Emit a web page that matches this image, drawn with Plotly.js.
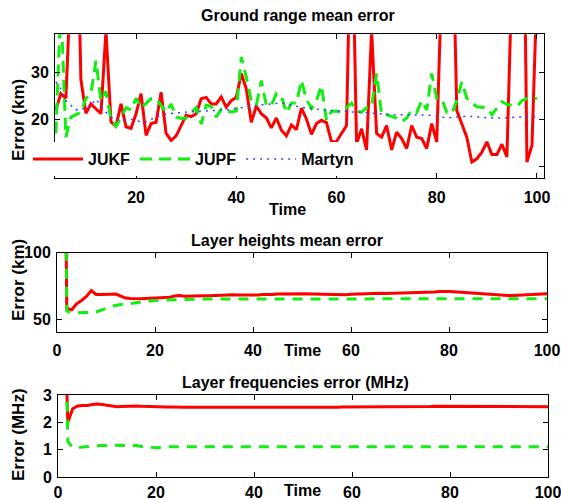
<!DOCTYPE html>
<html>
<head>
<meta charset="utf-8">
<script src="https://cdn.plot.ly/plotly-3.0.1.min.js"></script>
<style>html,body{margin:0;padding:0;background:#fff;}#chart{width:561px;height:500px;}</style>
</head>
<body>
<div id="chart"></div>
<script>
// ---------- Ground range mean error ----------
var timeGround = [4,5,6,7,8,9,10,11,12,13,14,15,16,17,18,19,20,21,22,23,24,25,26,27,28,29,30,31,32,33,34,35,36,37,38,39,40,41,42,43,44,45,46,47,48,49,50,51,52,53,54,55,56,57,58,59,60,61,62,63,64,65,66,67,68,69,70,71,72,73,74,75,76,77,78,79,80,81,82,83,84,85,86,87,88,89,90,91,92,93,94,95,96,97,98,99,100];
var groundJUKF = [22,25.5,24.5,52,76,28.5,21.3,23.3,22.3,21.2,39,19.5,18.5,23.3,18.4,18.1,21.2,25.5,16.6,19.1,19.4,25.8,17,15.5,16.5,18.7,20.9,20.6,21.2,24.4,24.7,23.3,23.3,24.8,22.6,24,24.7,29.8,26.5,19.4,22.8,21.2,20.3,18.2,20.3,17.7,16.5,18.8,17.8,22.4,20.1,16.8,19.1,19.8,19.3,15.2,15.3,17,18.7,70,14.8,18,13.5,39,17,16.2,18.7,13.5,17.3,15.9,13.8,18.7,16.2,15.9,13.8,19.1,15.2,50,60,70,21.9,19.1,16.2,10.9,11.6,13,15.2,12.5,12.5,14.7,12,50,70,100,10.9,14.5,48];
var groundJUPF = [17,45,16.2,20.5,21,21.5,24.5,25.5,32.5,24,26,20,18.5,20.5,22.5,22,24.5,22.5,23.5,24.4,24.5,23,21.5,23.3,20.5,20.2,20.3,21.5,22.5,19,23,22.8,20.5,22.2,21.8,21.6,21.8,33.3,29,24,23,28.3,23,23,25.5,25,21.4,23.5,23.5,28.3,24.3,22.3,24,27.2,19.8,21.7,21.8,21.5,22.5,23.5,21.8,21.5,22.5,22.7,29.8,21,21,20.7,20.3,19.5,20.3,22,21.5,24,22,29.8,24.5,24.4,21.5,21.2,24,28,24.5,23.5,22.7,22.6,22.5,21,22.5,23.8,23.2,23,22.8,24,24.5,24.3,24.5];
var groundMartyn = [28,26.5,24,23,22,22.5,22,23,24.3,23,21.5,20.5,20,19.8,19.8,20,19.7,19.5,19.5,20,20.5,21,21.2,21.3,21.4,21.4,21.5,21.6,21.7,21.8,21.8,21.9,21.9,22,22,22.2,22.3,22.5,22.6,22.8,23,23.1,23.2,23.3,23.4,23.5,23.3,23,22.8,22.6,22.5,22.4,22.2,22,22,21.9,21.8,21.8,21.7,21.6,21.6,21.5,21.4,21.3,21.2,21.1,21,21,21,21,21,21,21,21,21,20.9,20.7,20.5,20.3,20.4,20.5,20.6,20.7,20.6,20.5,20.5,20.4,20.3,20.3,20.3,20.4,20.4,20.5,20.5,20.5,20.6,20.6];

// ---------- Layer heights / frequencies ----------
var timeLayer = [1,2,3,4,5,6,7,8,9,10,11,12,13,14,15,16,17,18,19,20,21,22,23,24,25,26,27,28,29,30,31,32,33,34,35,36,37,38,39,40,41,42,43,44,45,46,47,48,49,50,51,52,53,54,55,56,57,58,59,60,61,62,63,64,65,66,67,68,69,70,71,72,73,74,75,76,77,78,79,80,81,82,83,84,85,86,87,88,89,90,91,92,93,94,95,96,97,98,99,100];
var heightJUKF = [400,58,57,61.5,64,67,71.5,68.5,68.5,68.8,68.7,68.8,67,65.8,65.5,65.3,65.3,65.5,65.6,65.8,65.8,66,66.5,67.3,67.8,67.2,67.4,67.6,67.3,67.5,67.6,67.8,67.6,67.9,68.1,68.3,68.2,68.1,68.3,68.2,68.2,68.4,68.3,68.5,68.9,69,68.9,68.9,69.1,69.2,69,68.9,68.8,68.9,68.9,69,68.9,68.6,68.3,68.7,68.9,69,68.9,69.1,69.4,69.4,69.3,69.4,69.3,69.4,69.5,69.6,69.6,69.7,69.9,70.1,70.4,70.7,70.9,70.8,70.5,70.2,69.9,69.7,69.6,69.4,69.2,69,68.7,68.2,67.9,67.8,67.8,68,68.3,68.6,68.8,68.9,69,69];
var heightJUPF = [400,56,54.5,54.5,54.8,55,55,55.3,56.5,58,59.5,60.3,61,61.3,61.8,62.3,62.8,63.2,63.6,63.9,64.1,64.3,64.5,64.6,64.8,64.9,65,65,65.1,65.1,65.1,65.2,65.2,65.2,65.2,65.2,65.3,65.3,65.3,65.3,65.3,65.3,65.3,65.3,65.3,65.3,65.3,65.3,65.3,65.3,65.3,65.3,65.3,65.3,65.3,65.3,65.3,65.3,65.3,65.3,65.3,65.3,65.3,65.3,65.3,65.3,65.3,65.3,65.3,65.3,65.3,65.3,65.3,65.3,65.3,65.3,65.3,65.3,65.3,65.3,65.3,65.3,65.3,65.3,65.3,65.3,65.3,65.3,65.3,65.3,65.3,65.3,65.3,65.3,65.3,65.3,65.3,65.3,65.3,65.3];
var freqJUKF = [8,2.0,2.5,2.6,2.62,2.62,2.65,2.67,2.65,2.62,2.6,2.57,2.58,2.59,2.6,2.6,2.59,2.58,2.58,2.57,2.57,2.56,2.56,2.55,2.55,2.55,2.55,2.55,2.55,2.54,2.54,2.54,2.53,2.53,2.53,2.53,2.53,2.53,2.53,2.53,2.54,2.54,2.54,2.54,2.54,2.54,2.54,2.54,2.55,2.55,2.55,2.55,2.55,2.55,2.55,2.55,2.55,2.56,2.56,2.56,2.56,2.56,2.56,2.56,2.57,2.57,2.57,2.57,2.57,2.57,2.58,2.58,2.58,2.58,2.58,2.58,2.59,2.59,2.59,2.59,2.59,2.59,2.59,2.59,2.59,2.58,2.58,2.58,2.58,2.58,2.58,2.57,2.57,2.57,2.57,2.57,2.57,2.57,2.57,2.57];
var freqJUPF = [10,1.3,1.08,1.07,1.1,1.12,1.13,1.14,1.15,1.16,1.17,1.16,1.15,1.15,1.16,1.15,1.12,1.1,1.08,1.07,1.08,1.1,1.11,1.11,1.11,1.11,1.11,1.11,1.11,1.11,1.11,1.11,1.11,1.11,1.11,1.11,1.11,1.11,1.11,1.11,1.11,1.11,1.11,1.11,1.11,1.11,1.11,1.11,1.11,1.11,1.11,1.11,1.11,1.11,1.11,1.11,1.11,1.11,1.11,1.11,1.11,1.11,1.11,1.11,1.11,1.11,1.11,1.11,1.11,1.11,1.11,1.11,1.11,1.11,1.11,1.11,1.11,1.11,1.11,1.11,1.11,1.11,1.11,1.11,1.11,1.11,1.11,1.11,1.11,1.11,1.11,1.11,1.11,1.11,1.11,1.11,1.11,1.11,1.11,1.11];

var xTicks1 = [20,40,60,80,100];
var xTicks23 = [0,20,40,60,80,100];
var yTicks1 = [10,20,30];
var yTicks2 = [50,100];
var yTicks3 = [0,1,2,3];

var RED = '#ff0000', GREEN = '#11ee11', BLUE = '#3344ff';
var FONT = 'Liberation Sans, Arial, Helvetica, sans-serif';

var traces = [
  {x: timeGround, y: groundJUKF, name: 'JUKF', mode: 'lines', line: {color: RED, width: 3}, xaxis: 'x', yaxis: 'y'},
  {x: timeGround, y: groundJUPF, name: 'JUPF', mode: 'lines', line: {color: GREEN, width: 3, dash: '12px,7px'}, xaxis: 'x', yaxis: 'y'},
  {x: timeGround, y: groundMartyn, name: 'Martyn', mode: 'lines', line: {color: BLUE, width: 1.5, dash: '2px,5px'}, xaxis: 'x', yaxis: 'y'},
  {x: timeLayer, y: heightJUKF, name: 'JUKF', mode: 'lines', line: {color: RED, width: 3}, xaxis: 'x2', yaxis: 'y2', showlegend: false},
  {x: timeLayer, y: heightJUPF, name: 'JUPF', mode: 'lines', line: {color: GREEN, width: 3, dash: '10px,8px'}, xaxis: 'x2', yaxis: 'y2', showlegend: false},
  {x: timeLayer, y: freqJUKF, name: 'JUKF', mode: 'lines', line: {color: RED, width: 3}, xaxis: 'x3', yaxis: 'y3', showlegend: false},
  {x: timeLayer, y: freqJUPF, name: 'JUPF', mode: 'lines', line: {color: GREEN, width: 3, dash: '10px,8px'}, xaxis: 'x3', yaxis: 'y3', showlegend: false}
];

var W = 561, H = 500;
function px(v){return v / W;}
function py(v){return 1 - v / H;}

function axisBase(extra){
  var a = {
    showline: true, linecolor: '#000', linewidth: 1, mirror: 'ticks',
    ticks: 'inside', ticklen: 5, tickwidth: 1, tickcolor: '#000',
    showgrid: false, zeroline: false, fixedrange: true,
    tickfont: {family: FONT, size: 16, color: '#000', weight: 'bold'}
  };
  for (var k in extra) a[k] = extra[k];
  return a;
}

var titleFont = {family: FONT, size: 16, color: '#000', weight: 'bold'};
var yTitleFont = {family: FONT, size: 17, color: '#000', weight: 'bold'};

var layout = {
  width: W, height: H,
  margin: {l: 0, r: 0, t: 0, b: 0},
  paper_bgcolor: '#fff', plot_bgcolor: '#fff',
  showlegend: true,
  legend: {
    orientation: 'h', x: px(28), y: py(142), xanchor: 'left', yanchor: 'top',
    bgcolor: '#fff', borderwidth: 0, itemwidth: 50,
    font: {family: FONT, size: 16, color: '#000', weight: 'bold'},
    traceorder: 'normal'
  },
  xaxis: axisBase({domain: [px(55), px(544)], range: [3.83, 101.4], tickvals: xTicks1, ticktext: xTicks1.map(String), anchor: 'y', ticklabelstandoff: 5}),
  yaxis: axisBase({domain: [py(178), py(34.3)], range: [7.5, 38.15], tickvals: yTicks1, ticktext: yTicks1.map(String), anchor: 'x', ticklabelstandoff: 2}),
  xaxis2: axisBase({domain: [px(57), px(547)], range: [0, 100], tickvals: xTicks23, ticktext: xTicks23.map(String), anchor: 'y2', ticklabelstandoff: 3}),
  yaxis2: axisBase({domain: [py(332.3), py(252.7)], range: [40, 100], tickvals: yTicks2, ticktext: yTicks2.map(String), anchor: 'x2', ticklabelstandoff: 2}),
  xaxis3: axisBase({domain: [px(58), px(548)], range: [0, 100], tickvals: xTicks23, ticktext: xTicks23.map(String), anchor: 'y3', ticklabelstandoff: 1, ticklabeloverflow: 'allow'}),
  yaxis3: axisBase({domain: [py(477), py(395)], range: [0, 3], tickvals: yTicks3, ticktext: yTicks3.map(String), anchor: 'x3', ticklabelstandoff: 2}),
  annotations: [
    {text: 'Ground range mean error', x: px(298), y: py(15), xref: 'paper', yref: 'paper', xanchor: 'center', yanchor: 'middle', showarrow: false, font: titleFont},
    {text: 'Time', x: px(287), y: py(210), xref: 'paper', yref: 'paper', xanchor: 'center', yanchor: 'middle', showarrow: false, font: titleFont},
    {text: 'Error (km)', x: px(18), y: py(120), xref: 'paper', yref: 'paper', xanchor: 'center', yanchor: 'middle', textangle: -90, showarrow: false, font: yTitleFont},
    {text: 'Layer heights mean error', x: px(287), y: py(240), xref: 'paper', yref: 'paper', xanchor: 'center', yanchor: 'middle', showarrow: false, font: titleFont},
    {text: 'Time', x: px(302), y: py(350), xref: 'paper', yref: 'paper', xanchor: 'center', yanchor: 'middle', showarrow: false, font: titleFont},
    {text: 'Error (km)', x: px(18), y: py(280), xref: 'paper', yref: 'paper', xanchor: 'center', yanchor: 'middle', textangle: -90, showarrow: false, font: yTitleFont},
    {text: 'Layer frequencies error (MHz)', x: px(295), y: py(382), xref: 'paper', yref: 'paper', xanchor: 'center', yanchor: 'middle', showarrow: false, font: titleFont},
    {text: 'Time', x: px(302), y: py(490), xref: 'paper', yref: 'paper', xanchor: 'center', yanchor: 'middle', showarrow: false, font: titleFont},
    {text: 'Error (MHz)', x: px(18), y: py(435), xref: 'paper', yref: 'paper', xanchor: 'center', yanchor: 'middle', textangle: -90, showarrow: false, font: yTitleFont}
  ]
};

Plotly.newPlot('chart', traces, layout, {displayModeBar: false, staticPlot: true});
</script>
</body>
</html>
